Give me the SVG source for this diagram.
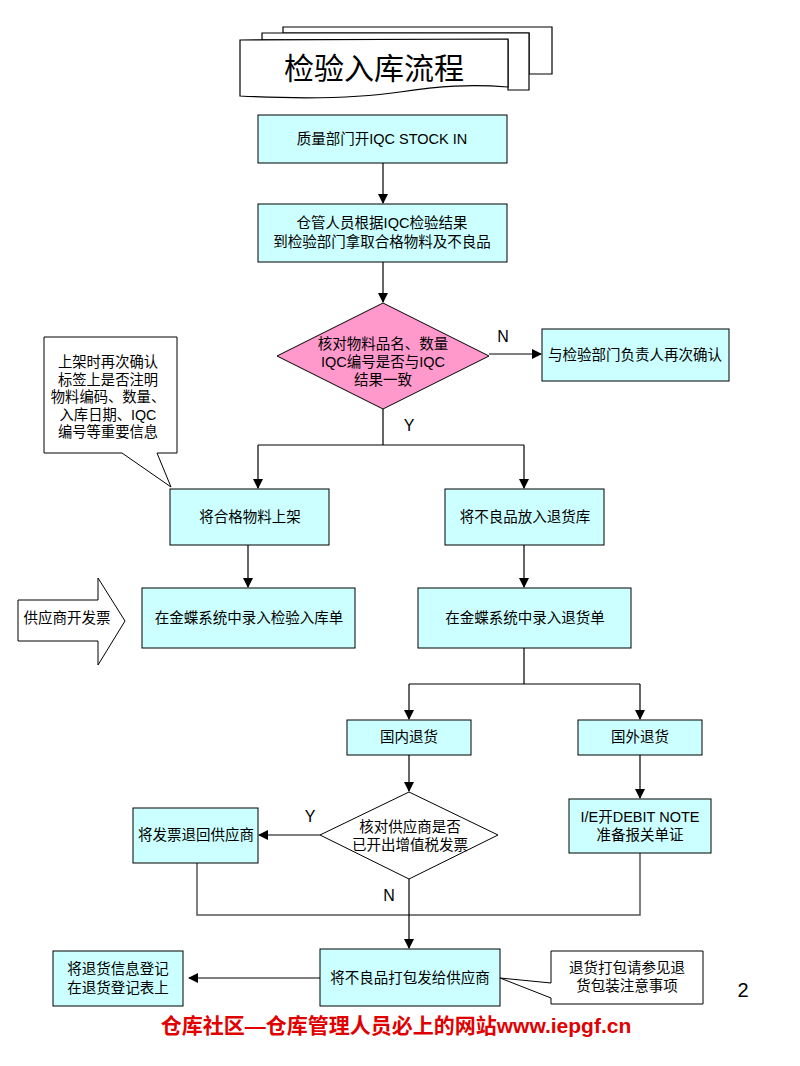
<svg xmlns="http://www.w3.org/2000/svg" width="800" height="1066" viewBox="0 0 800 1066">
<defs>
<marker id="ah" markerWidth="10" markerHeight="10" refX="9" refY="5" orient="auto" markerUnits="userSpaceOnUse">
<path d="M0,0 L10,5 L0,10 Z" fill="#000"/>
</marker>
<style>
.box{fill:#CCFFFF;stroke:#000;stroke-width:1}
.t{font-family:"Liberation Sans","Noto Sans CJK SC",sans-serif;font-size:14.5px;fill:#000;text-anchor:middle}
.ct{font-family:"Liberation Sans","Noto Sans CJK SC",sans-serif;font-size:14.3px;fill:#000;text-anchor:middle}
.ln{fill:none;stroke:#000;stroke-width:1.2}
.gl{fill:none;stroke:#555;stroke-width:1.5}
.lbl{font-family:"Liberation Sans",sans-serif;font-size:16px;fill:#000;text-anchor:middle}
</style>
</defs>
<rect width="800" height="1066" fill="#fff"/>

<g id="title">
<path d="M283,27 L552,27 L552,74 L529,74 L529,33 L283,33 Z" fill="#fff" stroke="#000" stroke-width="1.2"/>
<path d="M262,33 L529,33 L529,90 L508,90 L508,40 L262,40 Z" fill="#fff" stroke="#000" stroke-width="1.2"/>
<path d="M240,40 L508,39 L508,87 C470,84 440,86 400,92 C360,98 300,99 240,96 Z" fill="#fff" stroke="#000" stroke-width="1.2"/>
<text x="374" y="79" font-family="'Noto Sans CJK SC',sans-serif" font-size="30" text-anchor="middle">检验入库流程</text>
</g>

<g id="connectors">
<line class="ln" x1="383" y1="163" x2="383" y2="203" marker-end="url(#ah)"/>
<line class="ln" x1="383" y1="262" x2="383" y2="302" marker-end="url(#ah)"/>
<line class="ln" x1="489" y1="354" x2="541" y2="354" marker-end="url(#ah)"/>
<path class="ln" d="M383,409 L383,445 M258,445 L524,445"/>
<line class="ln" x1="258" y1="445" x2="258" y2="488" marker-end="url(#ah)"/>
<line class="ln" x1="524" y1="445" x2="524" y2="488" marker-end="url(#ah)"/>
<line class="ln" x1="248" y1="545" x2="248" y2="587" marker-end="url(#ah)"/>
<line class="ln" x1="524" y1="545" x2="524" y2="587" marker-end="url(#ah)"/>
<path class="ln" d="M524,648 L524,684 M409,684 L640,684"/>
<line class="ln" x1="409" y1="684" x2="409" y2="719" marker-end="url(#ah)"/>
<line class="ln" x1="640" y1="684" x2="640" y2="719" marker-end="url(#ah)"/>
<line class="ln" x1="409" y1="755" x2="409" y2="791" marker-end="url(#ah)"/>
<line class="ln" x1="640" y1="755" x2="640" y2="798" marker-end="url(#ah)"/>
<line class="ln" x1="320" y1="835" x2="259" y2="835" marker-end="url(#ah)"/>
<path class="gl" d="M197,863 L197,915 L640,915 L640,853"/>
<line class="ln" x1="409" y1="879" x2="409" y2="948" marker-end="url(#ah)"/>
<line class="ln" x1="320" y1="978" x2="189" y2="978" marker-end="url(#ah)"/>
<text class="lbl" x="503" y="342">N</text>
<text class="lbl" x="409" y="431">Y</text>
<text class="lbl" x="310" y="822">Y</text>
<text class="lbl" x="389" y="901">N</text>
</g>

<g id="n1"><rect class="box" x="258" y="115" width="249" height="48"/><text class="t" x="382" y="144">质量部门开IQC STOCK IN</text></g>
<g id="n2"><rect class="box" x="258" y="204" width="249" height="58"/><text class="t" x="382" y="228">仓管人员根据IQC检验结果</text><text class="t" x="382" y="247">到检验部门拿取合格物料及不良品</text></g>
<g id="d1"><polygon points="383,303 489,356 383,409 277,356" fill="#FF99CC" stroke="#000" stroke-width="1"/><text class="t" x="383" y="349">核对物料品名、数量</text><text class="t" x="383" y="367">IQC编号是否与IQC</text><text class="t" x="383" y="385">结果一致</text></g>
<g id="n3"><rect class="box" x="542" y="329" width="187" height="52"/><text class="t" x="635" y="360">与检验部门负责人再次确认</text></g>
<g id="callout1"><path d="M44,337 L177,337 L177,453 L157,453 L171,487 L122,453 L44,453 Z" fill="#fff" stroke="#000" stroke-width="1"/>
<text class="ct" x="108" y="367">上架时再次确认</text><text class="ct" x="108" y="385">标签上是否注明</text><text class="ct" x="108" y="402">物料编码、数量、</text><text class="ct" x="108" y="420">入库日期、IQC</text><text class="ct" x="108" y="437">编号等重要信息</text></g>
<g id="n4"><rect class="box" x="170" y="489" width="159" height="56"/><text class="t" x="250" y="522">将合格物料上架</text></g>
<g id="n5"><rect class="box" x="445" y="489" width="159" height="56"/><text class="t" x="525" y="522">将不良品放入退货库</text></g>
<g id="supplier"><polygon points="18,600 98,600 98,578 125,621 98,665 98,641 18,641" fill="#fff" stroke="#000" stroke-width="1"/><text class="t" x="67" y="623">供应商开发票</text></g>
<g id="n6"><rect class="box" x="142" y="588" width="213" height="60"/><text class="t" x="249" y="623">在金蝶系统中录入检验入库单</text></g>
<g id="n7"><rect class="box" x="418" y="588" width="213" height="60"/><text class="t" x="525" y="623">在金蝶系统中录入退货单</text></g>
<g id="n8"><rect class="box" x="347" y="720" width="124" height="35"/><text class="t" x="409" y="742">国内退货</text></g>
<g id="n9"><rect class="box" x="578" y="720" width="124" height="35"/><text class="t" x="640" y="742">国外退货</text></g>
<g id="d2"><polygon points="409,792 498,835 409,879 320,835" fill="#fff" stroke="#000" stroke-width="1"/><text class="t" x="410" y="832">核对供应商是否</text><text class="t" x="410" y="850">已开出增值税发票</text></g>
<g id="n10"><rect class="box" x="133" y="808" width="125" height="55"/><text class="t" x="196" y="840">将发票退回供应商</text></g>
<g id="n11"><rect class="box" x="569" y="799" width="142" height="54"/><text class="t" x="640" y="822">I/E开DEBIT NOTE</text><text class="t" x="640" y="840">准备报关单证</text></g>
<g id="n12"><rect class="box" x="320" y="949" width="180" height="57"/><text class="t" x="410" y="983">将不良品打包发给供应商</text></g>
<g id="n13"><rect class="box" x="53" y="951" width="130" height="55"/><text class="t" x="118" y="974">将退货信息登记</text><text class="t" x="118" y="993">在退货登记表上</text></g>
<g id="callout2"><path d="M551,951 L703,951 L703,1004 L551,1004 L551,998 L500,978 L551,983 Z" fill="#fff" stroke="#000" stroke-width="1"/><text class="t" x="627" y="973">退货打包请参见退</text><text class="t" x="627" y="991">货包装注意事项</text></g>
<text x="743" y="997" font-family="'Liberation Sans',sans-serif" font-size="20" text-anchor="middle">2</text>
<text x="396" y="1033" font-family="'Liberation Sans','Noto Sans CJK SC',sans-serif" font-size="21" font-weight="bold" fill="#E00000" text-anchor="middle">仓库社区—仓库管理人员必上的网站www.iepgf.cn</text>
</svg>
